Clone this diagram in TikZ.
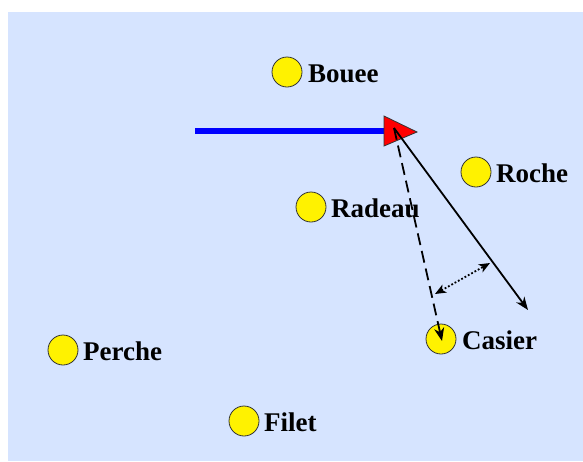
\documentclass[tikz,border=0pt]{standalone}
\usepackage{fontspec}
\setmainfont{Liberation Serif}
\usetikzlibrary{arrows.meta}
\definecolor{bgblue}{RGB}{214,228,255}
\tikzset{
  buoy/.style={circle,draw=black!80,fill=yellow,line width=0.8pt,minimum size=30pt,inner sep=0pt},
  lbl/.style={font=\bfseries\fontsize{27}{30}\selectfont,inner sep=0pt,anchor=base west},
  arr/.style={line width=1.8pt,-{Stealth[length=13pt,width=10pt,inset=4pt]}},
}
\begin{document}
\begin{tikzpicture}[x=1pt,y=-1pt]
\useasboundingbox (0,0) rectangle (583,461);
\fill[bgblue] (8,12) rectangle (583,461);
% buoys
\node[buoy] (bouee) at (287,72) {};
\node[buoy] (radeau) at (311,207) {};
\node[buoy] (roche) at (476,172) {};
\node[buoy] (casier) at (441,339) {};
\node[buoy] (perche) at (63,350) {};
\node[buoy] (filet) at (244,421) {};
\node[lbl] (tbouee) at (308,82) {Bouee};
\node[lbl] (tradeau) at (331,217) {Radeau};
\node[lbl] (troche) at (496,182) {Roche};
\node[lbl] (tcasier) at (462,349) {Casier};
\node[lbl] (tperche) at (83,360) {Perche};
\node[lbl] (tfilet) at (264,431) {Filet};
% track
\coordinate (tstart) at (195,131);
\coordinate (boat) at (384,131);
\draw[blue,line width=6pt] (tstart) -- (boat);
\draw[fill=red,draw=black!80,line width=0.8pt] (384,116) -- (417,132) -- (384,146) -- cycle;
\coordinate (src) at (394,128);
\coordinate (heading) at (528,310);
\coordinate (target) at (442,341);
\draw[arr] (src) -- (heading);
\draw[arr,dash pattern=on 12pt off 6pt] (src) -- (target);
\coordinate (d1) at (435,294);
\coordinate (d2) at (490,263);
\draw[line width=1.8pt,dotted,{Stealth[length=11pt,width=9pt,inset=3pt]}-{Stealth[length=11pt,width=9pt,inset=3pt]}] (d1) -- (d2);
\end{tikzpicture}
\end{document}
